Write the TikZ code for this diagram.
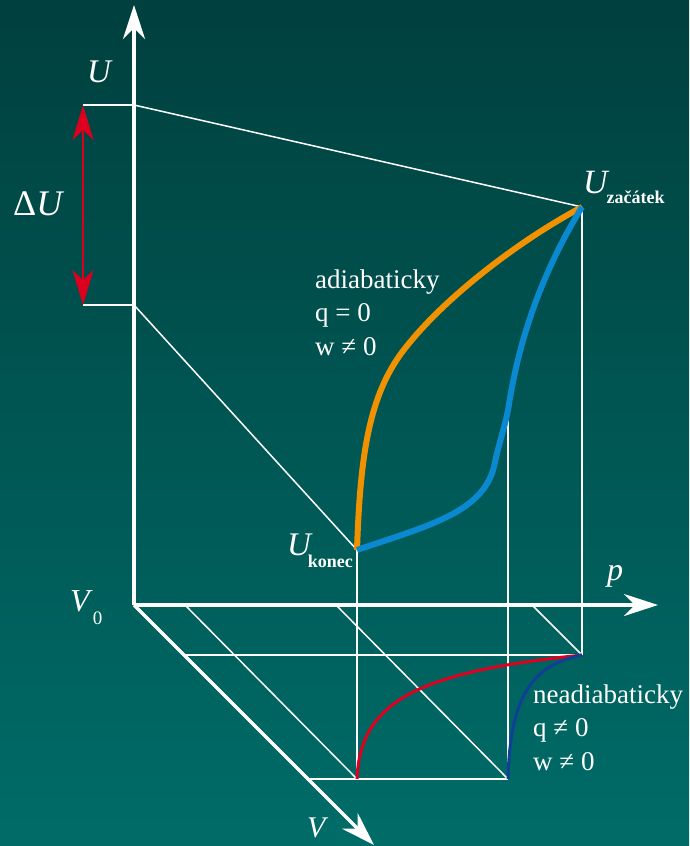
\documentclass[tikz,border=0pt]{standalone}
\usepackage{fontspec}
\setmainfont{Liberation Serif}
\usetikzlibrary{arrows.meta}
\definecolor{bgtop}{RGB}{0,64,62}
\definecolor{bgbottom}{RGB}{0,108,104}
\definecolor{adiorange}{RGB}{240,146,0}
\definecolor{pathblue}{RGB}{10,136,208}
\definecolor{pvred}{RGB}{222,0,30}
\definecolor{pvblue}{RGB}{16,64,150}
\definecolor{arrowred}{RGB}{220,0,30}

\begin{document}
\begin{tikzpicture}[x=1pt, y=-1pt,
  axis/.style={white, line width=3.5pt, -{Stealth[length=34pt, width=22pt, inset=11pt]}},
  guide/.style={white, line width=1.5pt},
  tick/.style={white, line width=2pt},
  curve/.style={line width=6pt},
  pvcurve/.style={line width=3pt},
  lbl/.style={text=white, inner sep=0pt, anchor=base west},
  txt/.style={text=white, inner sep=0pt, anchor=base west, align=left, font=\fontsize{27}{33.5}\selectfont}
]
\shade[top color=bgtop, bottom color=bgbottom] (0,0) rectangle (689,846);
\useasboundingbox (0,0) rectangle (689,846);

% points of the diagram
\coordinate (O) at (134,605);
\coordinate (Utip) at (134,5);
\coordinate (ptip) at (658,605);
\coordinate (Vtip) at (374,845);
\coordinate (Ua) at (134,105);
\coordinate (Ub) at (134,305);
\coordinate (Uat) at (83,105);
\coordinate (Ubt) at (83,305);
\coordinate (Z) at (582,207);
\coordinate (K) at (357,550);
\coordinate (M) at (508,410);
\coordinate (Zpv) at (582,655);
\coordinate (Kpv) at (357,779);
\coordinate (Mpv) at (508,779);
\coordinate (V1) at (184,655);
\coordinate (V2) at (308,779);
\coordinate (P1) at (185,605);
\coordinate (P2) at (336,605);
\coordinate (P3) at (532,605);

% guide lines
\draw[tick] (Uat) -- (Ua);
\draw[tick] (Ubt) -- (Ub);
\draw[guide] (Ua) -- (Z);
\draw[guide] (Ub) -- (K);
\draw[guide] (Z) -- (Zpv);
\draw[guide] (K) -- (Kpv);
\draw[guide] (M) -- (Mpv);
\draw[guide] (V1) -- (Zpv);
\draw[guide] (V2) -- (Mpv);
\draw[guide] (P1) -- (Kpv);
\draw[guide] (P2) -- (Mpv);
\draw[guide] (P3) -- (Zpv);

% curves
\draw[curve, adiorange] (K) .. controls (360,460) and (368,400) .. (400,355)
  .. controls (440,300) and (520,240) .. (Z);
\draw[curve, pathblue] (K) .. controls (430,525) and (486,512) .. (495,462)
  .. controls (499,443) and (505,426) .. (M)
  .. controls (513,380) and (525,300) .. (Z);
\draw[pvcurve, pvred] (Kpv) .. controls (360,700) and (420,672) .. (Zpv);
\draw[pvcurve, pvblue] (Mpv) .. controls (510,700) and (530,665) .. (Zpv);

% axes
\draw[axis] (O) -- (Utip);
\draw[axis] (O) -- (ptip);
\draw[axis] (O) -- (Vtip);
\draw[arrowred, line width=2.5pt, {Stealth[length=35pt, width=21pt, inset=10pt]}-{Stealth[length=35pt, width=21pt, inset=10pt]}] (Ubt) -- (Uat);

% labels
\node[lbl, font=\fontsize{33}{33}\selectfont\itshape] (Ulab) at (87,82) {U};
\node[lbl, font=\fontsize{36}{36}\selectfont] (dUlab) at (13,215) {Δ\textit{U}};
\node[lbl, font=\fontsize{34}{34}\selectfont] (Zlab) at (583,193) {\textit{U}\kern-3pt\raisebox{-10pt}{\fontsize{18}{18}\selectfont\bfseries začátek}};
\node[lbl, font=\fontsize{33}{33}\selectfont] (Klab) at (287,555) {\textit{U}\kern-5pt\raisebox{-12pt}{\fontsize{18}{18}\selectfont\bfseries konec}};
\node[lbl, font=\fontsize{32}{32}\selectfont\itshape] (plab) at (607,580) {p};
\node[lbl, font=\fontsize{32}{32}\selectfont] (V0lab) at (70,611) {\textit{V}\raisebox{-13pt}{\fontsize{19}{19}\selectfont 0}};
\node[lbl, font=\fontsize{30}{30}\selectfont\itshape] (Vlab) at (307,837) {V};
\node[txt] (adi) at (315,355) {adiabaticky\\q = 0\\w ≠ 0};
\node[txt] (neadi) at (533,770) {neadiabaticky\\q ≠ 0\\w ≠ 0};
\end{tikzpicture}
\end{document}
